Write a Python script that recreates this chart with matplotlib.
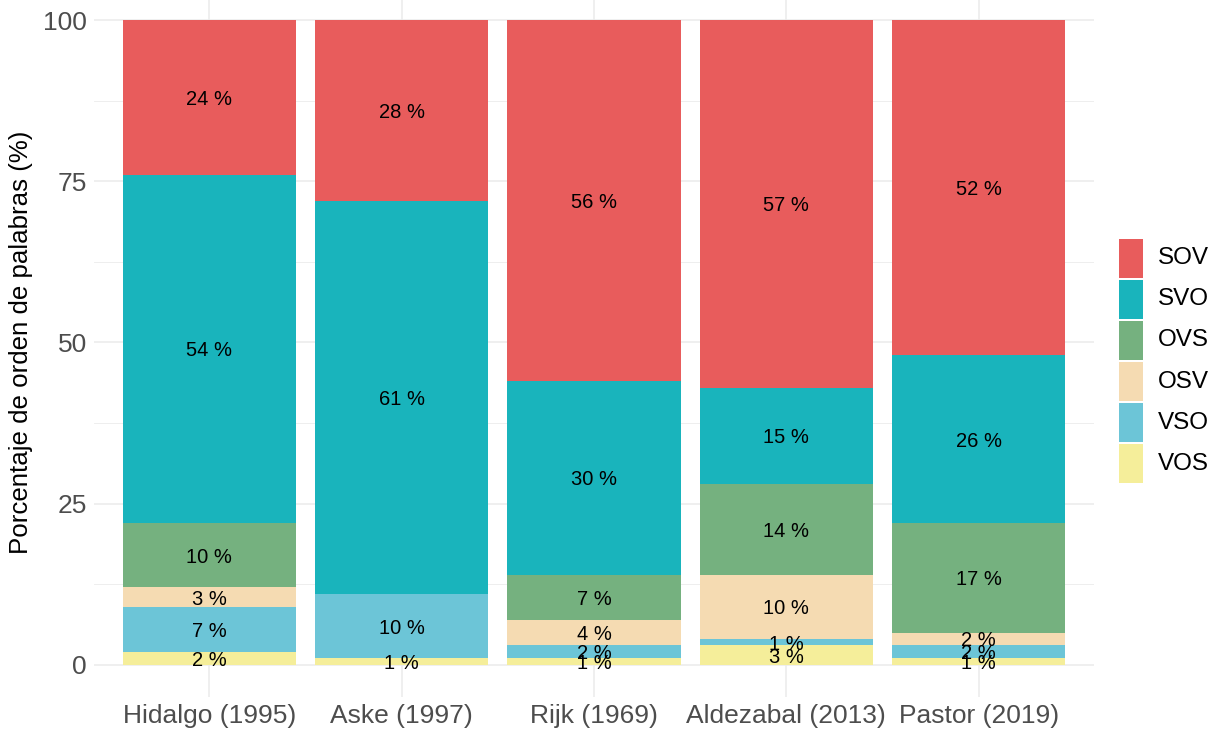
import numpy as np
import matplotlib
matplotlib.use("Agg")
from matplotlib import pyplot as plt
from matplotlib.patches import Rectangle

# Daten
estudios = ["Hidalgo (1995)", "Aske (1997)", "Rijk (1969)", "Aldezabal (2013)", "Pastor (2019)"]
ordenes = ["VOS", "VSO", "OSV", "OVS", "SVO", "SOV"]  # de abajo hacia arriba
vos = [2, 1, 1, 3, 1]
vso = [7, 10, 2, 1, 2]
osv = [3, 0, 4, 10, 2]
ovs = [10, 0, 7, 14, 17]
svo = [54, 61, 30, 15, 26]
sov = [24, 28, 56, 57, 52]
colores = ["#F5EE9A", "#6CC5D7", "#F5DBB2", "#75B17F", "#19B4BC", "#E85C5C"]

series = [vos, vso, osv, ovs, svo, sov]

plt.rcParams["font.family"] = ["Liberation Sans", "DejaVu Sans"]

W, H = 1222, 729
fig = plt.figure(figsize=(W / 100, H / 100), dpi=100)
ax = fig.add_axes([0.0769, 0.0439, 0.8184, 0.9726])

x = np.arange(1, len(estudios) + 1)
abajo = np.zeros(len(estudios))
for valores, color in zip(series, colores):
    valores = np.array(valores, dtype=float)
    ax.bar(x, valores, width=0.9, bottom=abajo, color=color, zorder=2)
    # Etiquetas en el centro de cada segmento
    for xi, b, v in zip(x, abajo, valores):
        if v > 0:
            ax.text(xi, b + v / 2, f"{int(v)} %", ha="center", va="center_baseline",
                    fontsize=14.5, color="black", zorder=3)
    abajo += valores

ax.set_xlim(0.4, 5.6)
ax.set_ylim(-5, 105)
ax.set_xticks(x)
ax.set_xticklabels(estudios)
ax.set_yticks([0, 25, 50, 75, 100])
ax.set_yticks([12.5, 37.5, 62.5, 87.5], minor=True)
ax.tick_params(axis="both", which="both", length=0, labelsize=19, colors="#4D4D4D")
ax.tick_params(axis="x", pad=5)
ax.tick_params(axis="y", pad=5)
for s in ax.spines.values():
    s.set_visible(False)
ax.grid(which="major", color="#EBEBEB", linewidth=1.1, zorder=0)
ax.grid(which="minor", axis="y", color="#EBEBEB", linewidth=0.6, zorder=0)
ax.set_axisbelow(True)

ax.set_ylabel("Porcentaje de orden de palabras (%)", fontsize=18.6, color="black")
ax.yaxis.set_label_coords(-0.061, 0.5)

# Leyenda manual (de arriba hacia abajo)
for i, (nombre, color) in enumerate(zip(ordenes[::-1], colores[::-1])):
    top = 239 + i * 41
    fig.add_artist(Rectangle((1119 / W, 1 - (top + 39) / H), 24 / W, 39 / H,
                             transform=fig.transFigure, facecolor=color, edgecolor="none"))
    fig.text(1158 / W, 1 - (top + 19.5) / H, nombre, ha="left", va="center",
             fontsize=17.5, color="black")

plt.savefig("out.png", dpi=100)
